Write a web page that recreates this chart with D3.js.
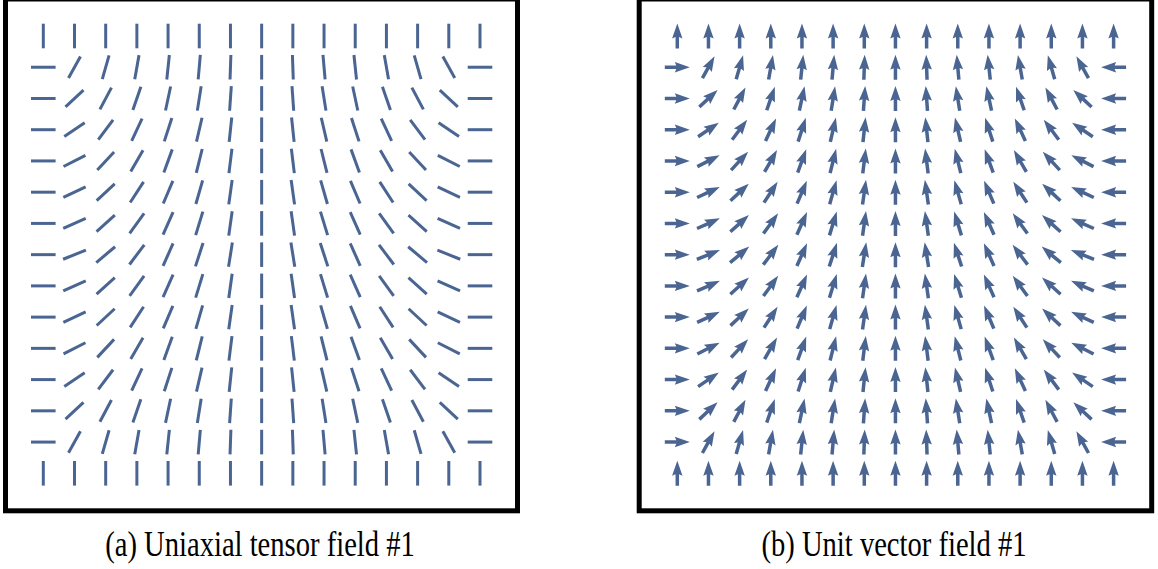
<!DOCTYPE html>
<html>
<head>
<meta charset="utf-8">
<script src="https://cdn.jsdelivr.net/npm/d3@7"></script>
<style>
  html, body { margin: 0; padding: 0; background: #ffffff; }
  svg { display: block; }
</style>
</head>
<body>
<svg id="chart" width="1158" height="569"></svg>
<script>
// ---- data ----
const columns = [0,1,2,3,4,5,6,7,8,9,10,11,12,13,14];
const rows    = [0,1,2,3,4,5,6,7,8,9,10,11,12,13,14];

// director / vector angle in degrees (0 = pointing right, 90 = up, 180 = pointing left), one array per row, top to bottom
const angleRow00 = [90, 90, 90, 90, 90, 90, 90, 90, 90, 90, 90, 90, 90, 90, 90];
const angleRow01 = [0, 61, 74, 80, 84, 85, 88, 90, 92, 95, 96, 100, 106, 119, 180];
const angleRow02 = [0, 43, 62, 71, 78, 81, 86, 90, 94, 99, 102, 109, 118, 137, 180];
const angleRow03 = [0, 34, 53, 65, 72, 77, 84, 90, 96, 103, 108, 115, 127, 146, 180];
const angleRow04 = [0, 27, 47, 60, 70, 76, 83, 90, 97, 104, 110, 120, 133, 153, 180];
const angleRow05 = [0, 25, 43, 57, 67, 74, 82, 90, 98, 106, 113, 123, 137, 155, 180];
const angleRow06 = [0, 24, 42, 54, 66, 73, 82, 90, 98, 107, 114, 126, 138, 156, 180];
const angleRow07 = [0, 22, 40, 53, 66, 72, 81, 90, 99, 108, 114, 127, 140, 158, 180];
const angleRow08 = [0, 24, 42, 54, 66, 73, 82, 90, 98, 107, 114, 126, 138, 156, 180];
const angleRow09 = [0, 25, 43, 57, 67, 74, 82, 90, 98, 106, 113, 123, 137, 155, 180];
const angleRow10 = [0, 27, 47, 60, 70, 76, 83, 90, 97, 104, 110, 120, 133, 153, 180];
const angleRow11 = [0, 34, 53, 65, 72, 77, 84, 90, 96, 103, 108, 115, 127, 146, 180];
const angleRow12 = [0, 43, 62, 71, 78, 81, 86, 90, 94, 99, 102, 109, 118, 137, 180];
const angleRow13 = [0, 61, 74, 80, 84, 85, 88, 90, 92, 95, 96, 100, 106, 119, 180];
const angleRow14 = [90, 90, 90, 90, 90, 90, 90, 90, 90, 90, 90, 90, 90, 90, 90];

const captions = ["(a) Uniaxial tensor field #1", "(b) Unit vector field #1"];

// ---- build ----
const angleRows = [angleRow00, angleRow01, angleRow02, angleRow03, angleRow04, angleRow05, angleRow06,
  angleRow07, angleRow08, angleRow09, angleRow10, angleRow11, angleRow12, angleRow13, angleRow14];

const cells = [];
rows.forEach((r, i) => columns.forEach((c, j) => cells.push({ r, c, angle: angleRows[i][j] })));

const glyphColor = "#4a6592";
const svg = d3.select("#chart");

const panels = [
  { box: { x0: 5.5, x1: 517.5, y0: -1, y1: 510.8 }, xr: [43.3, 480.0], yr: [36, 473.3], kind: "tensor", caption: captions[0], cx: 260 },
  { box: { x0: 639.2, x1: 1151.7, y0: -1, y1: 510.8 }, xr: [677.3, 1113.6], yr: [36, 473.3], kind: "vector", caption: captions[1], cx: 894 }
];

panels.forEach(p => {
  const g = svg.append("g");
  g.append("rect")
    .attr("x", p.box.x0).attr("y", p.box.y0)
    .attr("width", p.box.x1 - p.box.x0).attr("height", p.box.y1 - p.box.y0)
    .attr("fill", "#fff").attr("stroke", "#000").attr("stroke-width", 5);

  const x = d3.scaleLinear().domain(d3.extent(columns)).range(p.xr);
  const y = d3.scaleLinear().domain(d3.extent(rows)).range(p.yr);

  const glyphs = g.selectAll("g.glyph").data(cells).join("g")
    .attr("class", "glyph")
    .attr("transform", d => `translate(${x(d.c)},${y(d.r)}) rotate(${-d.angle})`);

  if (p.kind === "tensor") {
    const L = 24.6;
    glyphs.append("line")
      .attr("x1", -L / 2).attr("x2", L / 2).attr("y1", 0).attr("y2", 0)
      .attr("stroke", glyphColor).attr("stroke-width", 3);
  } else {
    const L = 25, sw = 1.75, hw = 5.2, hl = 15, back = 13.5;
    const tail = -L / 2, tip = L / 2;
    const pts = [
      [tail, -sw], [tip - back, -sw], [tip - hl, -hw], [tip, 0],
      [tip - hl, hw], [tip - back, sw], [tail, sw]
    ];
    glyphs.append("path")
      .attr("d", d3.line()(pts) + "Z")
      .attr("fill", glyphColor).attr("stroke", "none");
  }

  svg.append("text")
    .attr("transform", `translate(${p.cx},556) scale(1,1.22)`)
    .attr("text-anchor", "middle")
    .attr("font-family", "'Liberation Serif', 'Times New Roman', serif")
    .attr("font-size", 28.6)
    .attr("fill", "#000")
    .text(p.caption);
});
</script>
</body>
</html>
